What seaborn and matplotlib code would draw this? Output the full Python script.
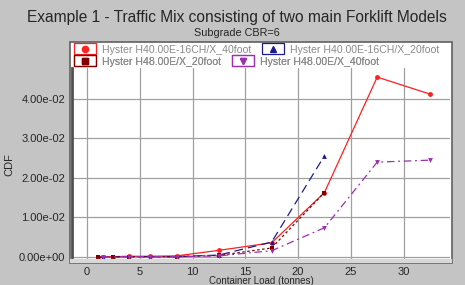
"""
Traffic mix CDF chart: two forklift models, 20 and 40 foot containers.
"""

import numpy as np
import pandas as pd
import matplotlib
matplotlib.use("Agg")
import matplotlib.pyplot as plt
from matplotlib.lines import Line2D
from matplotlib.patches import Rectangle
from matplotlib.legend_handler import HandlerBase
import seaborn as sns

# data
red_x = [1.0, 2.5, 4.0, 6.0, 8.5, 12.5, 17.5, 22.5, 27.5, 32.5]
red_y = [0.0, 0.0001, 0.0002, 0.0002, 0.0003, 0.0017, 0.0036, 0.0163, 0.0455, 0.0412]

blue_x = [1.0, 1.5, 4.0, 6.0, 8.5, 12.5, 17.5, 22.5]
blue_y = [0.0, 0.0, 0.0001, 0.0001, 0.0001, 0.0005, 0.0038, 0.0256]

darkred_x = [1.0, 2.5, 4.0, 8.5, 12.5, 17.5, 22.5]
darkred_y = [0.0, 0.0001, 0.0001, 0.0001, 0.0004, 0.0023, 0.0163]

purple_x = [1.5, 4.0, 6.0, 8.5, 12.5, 17.5, 22.5, 27.5, 32.5]
purple_y = [0.0, 0.0001, 0.0001, 0.0001, 0.0003, 0.0016, 0.0074, 0.0240, 0.0245]

series_names = [
    "Hyster H40.00E-16CH/X_40foot",
    "Hyster H40.00E-16CH/X_20foot",
    "Hyster H48.00E/X_20foot",
    "Hyster H48.00E/X_40foot",
]
x_ticks = [0, 5, 10, 15, 20, 25, 30]
y_ticks = [0.0, 0.01, 0.02, 0.03, 0.04]

styles = [
    dict(color="#ff2020", marker="o", dashes=None),
    dict(color="#1c1c8c", marker="^", dashes=(7, 4)),
    dict(color="#800000", marker="s", dashes=(2, 2)),
    dict(color="#9b30b0", marker="v", dashes=(6, 3, 1.5, 3)),
]
series = [(red_x, red_y), (blue_x, blue_y), (darkred_x, darkred_y), (purple_x, purple_y)]


class BoxedMarker(HandlerBase):
    """Legend swatch: marker inside a coloured box."""

    def create_artists(self, legend, orig, xd, yd, width, height, fontsize, trans):
        c = orig.get_color()
        box = Rectangle((xd, yd - 1), width, height + 2, fill=False,
                        edgecolor=c, lw=0.9, transform=trans)
        mk = Line2D([xd + width / 2], [yd + height / 2], marker=orig.get_marker(),
                    color=c, ms=4.5, ls="none", transform=trans)
        return [box, mk]


sns.set_style("white")
plt.rcParams["font.family"] = ["Liberation Sans", "DejaVu Sans"]

fig = plt.figure(figsize=(4.65, 2.85), dpi=100, facecolor="#c4c4c4")
# white frame holding legend + plot
fig.add_artist(Rectangle((70 / 465, 1 - 263 / 285), 382 / 465, 221 / 285,
                         transform=fig.transFigure, facecolor="white",
                         edgecolor="#606060", lw=1.2, zorder=0))
ax = fig.add_axes([72 / 465, 1 - 261 / 285, 378 / 465, 193 / 285])
ax.set_facecolor("white")

for (xs, ys), name, st in zip(series, series_names, styles):
    df = pd.DataFrame({"x": xs, "y": ys})
    sns.lineplot(data=df, x="x", y="y", ax=ax, color=st["color"], marker=st["marker"],
                 markersize=3.5, markeredgewidth=0, lw=0.9, legend=False)
    if st["dashes"] is not None:
        ax.get_lines()[-1].set_dashes(st["dashes"])

ax.set_xlim(-1.42, 34.4)
ax.set_ylim(-0.001, 0.0478)
ax.set_xticks(x_ticks)
ax.set_yticks(y_ticks)
ax.set_yticklabels([f"{v:.2e}" for v in y_ticks])
ax.set_xticks(np.arange(-1, 35, 1), minor=True)
ax.set_yticks(np.arange(0.005, 0.046, 0.01), minor=True)
ax.grid(True, which="major", color="#a0a0a0", lw=0.9)
ax.tick_params(axis="both", which="major", labelsize=8, length=3, color="#808080", pad=2)
ax.tick_params(axis="x", which="major", pad=1)
ax.tick_params(axis="both", which="minor", length=2, color="#c0c0c0", direction="in")
for s in ["top", "right"]:
    ax.spines[s].set_visible(False)
ax.spines["bottom"].set_color("#d8d8d8")
ax.spines["bottom"].set_linewidth(3)
ax.spines["left"].set_color("#505050")
ax.spines["left"].set_linewidth(2)

ax.set_xlabel("Container Load (tonnes)", fontsize=7, va="center")
ax.xaxis.set_label_coords(0.5, -0.103)
ax.set_ylabel("CDF", fontsize=8, labelpad=3)

# legend laid out as two flowing rows, like the original
handles = [Line2D([], [], color=st["color"], marker=st["marker"], ls="none") for st in styles]
rows = [([0, 1], 1.093), ([2, 3], 1.031)]
for idx, yanchor in rows:
    leg = ax.legend([handles[i] for i in idx], [series_names[i] for i in idx],
                    handler_map={Line2D: BoxedMarker()}, ncol=2, loc="center left",
                    bbox_to_anchor=(0.0, yanchor), frameon=False, fontsize=7.6,
                    handlelength=2.1, handleheight=0.8, handletextpad=0.55,
                    columnspacing=1.0, borderaxespad=0.1, borderpad=0.1)
    for t in leg.get_texts():
        t.set_color("#8a8a8a")
    ax.add_artist(leg)

fig.text(0.51, 0.94, "Example 1 - Traffic Mix consisting of two main Forklift Models",
         ha="center", va="center", fontsize=11.2)
fig.text(0.51, 0.883, "Subgrade CBR=6", ha="center", va="center", fontsize=7.8)

fig.savefig("out.png", dpi=100, facecolor=fig.get_facecolor())
plt.close(fig)
